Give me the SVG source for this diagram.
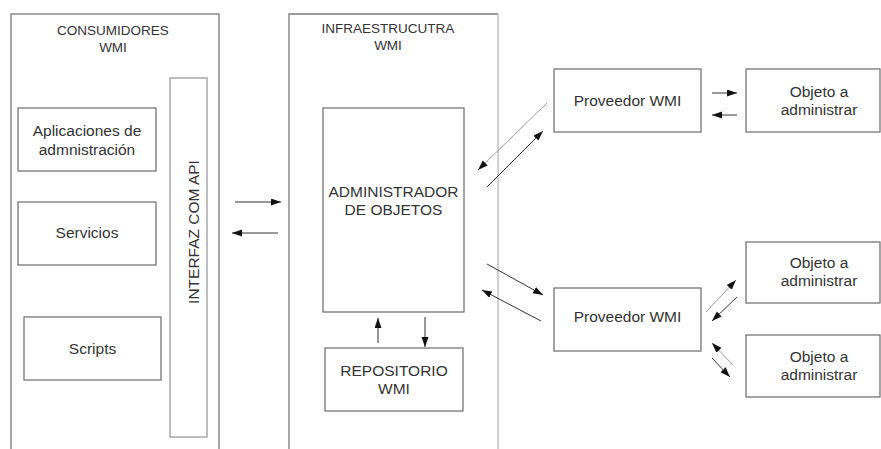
<svg xmlns="http://www.w3.org/2000/svg" width="881" height="449" viewBox="0 0 881 449">
<defs>
<marker id="ah" markerWidth="10" markerHeight="8" refX="10" refY="3.5" orient="auto" markerUnits="userSpaceOnUse">
<path d="M0,0 L10,3.5 L0,7 z" fill="#111"/>
</marker>
<style>
.cont{fill:none;stroke:#7a7a7a;stroke-width:1.3}
.box{fill:#fff;stroke:#6a6a6a;stroke-width:1.2}
.light{fill:#fff;stroke:#a8a8a8;stroke-width:1.5}
.t{font-family:"Liberation Sans",Arial,sans-serif;font-size:15.5px;fill:#333;text-anchor:middle}
.h{font-family:"Liberation Sans",Arial,sans-serif;font-size:13.5px;fill:#333;text-anchor:middle}
.a{stroke:#333;stroke-width:1;fill:none;marker-end:url(#ah)}
.ag{stroke:#999;stroke-width:1;fill:none;marker-end:url(#ah)}
</style>
</defs>
<rect width="881" height="449" fill="#fff"/>
<g id="consumidores">
<rect class="cont" x="11" y="14" width="208" height="450"/>
<text class="h" x="113" y="35">CONSUMIDORES</text>
<text class="h" x="113" y="52">WMI</text>
</g>
<g id="infraestructura">
<path d="M289,460 V14 H498" fill="none" stroke="#7a7a7a" stroke-width="1.3"/>
<path d="M498,14 V460" fill="none" stroke="#b5b5b5" stroke-width="1.3"/>
<text class="h" x="388" y="33">INFRAESTRUCUTRA</text>
<text class="h" x="388" y="50">WMI</text>
</g>
<g id="aplicaciones">
<rect class="box" x="18" y="108" width="138" height="63"/>
<text class="t" x="87" y="136">Aplicaciones de</text>
<text class="t" x="87" y="155">admnistración</text>
</g>
<g id="servicios">
<rect class="box" x="18" y="202" width="138" height="63"/>
<text class="t" x="87" y="238">Servicios</text>
</g>
<g id="scripts">
<rect class="box" x="24" y="317" width="137" height="63"/>
<text class="t" x="92.5" y="354">Scripts</text>
</g>
<g id="interfaz">
<rect class="light" x="170" y="78" width="37" height="359"/>
<text class="t" transform="translate(199,232) rotate(-90)" x="0" y="0">INTERFAZ COM API</text>
</g>
<g id="administrador">
<rect class="box" x="323" y="108" width="141" height="204"/>
<text class="t" x="393.5" y="197">ADMINISTRADOR</text>
<text class="t" x="393.5" y="215">DE OBJETOS</text>
</g>
<g id="repositorio">
<rect class="box" x="325" y="348" width="138" height="63"/>
<text class="t" x="394" y="376">REPOSITORIO</text>
<text class="t" x="394" y="394">WMI</text>
</g>
<g id="proveedor1">
<rect class="box" x="554" y="69" width="147" height="63"/>
<text class="t" x="627.5" y="106">Proveedor WMI</text>
</g>
<g id="objeto1">
<rect class="box" x="746" y="69" width="134" height="63"/>
<text class="t" x="819" y="97">Objeto a</text>
<text class="t" x="819" y="115">administrar</text>
</g>
<g id="proveedor2">
<rect class="box" x="554" y="288" width="147" height="63"/>
<text class="t" x="627.5" y="322">Proveedor WMI</text>
</g>
<g id="objeto2">
<rect class="box" x="746" y="242" width="134" height="61"/>
<text class="t" x="819" y="268">Objeto a</text>
<text class="t" x="819" y="286">administrar</text>
</g>
<g id="objeto3">
<rect class="box" x="746" y="335" width="134" height="62"/>
<text class="t" x="819" y="362">Objeto a</text>
<text class="t" x="819" y="380">administrar</text>
</g>
<g id="connectors">
<line class="a" x1="235" y1="202" x2="281" y2="202"/>
<line class="a" x1="278" y1="233" x2="232" y2="233"/>
<line class="a" x1="378" y1="343" x2="378" y2="318"/>
<line class="a" x1="425" y1="317" x2="425" y2="347"/>
<line class="ag" x1="547" y1="103" x2="478" y2="170"/>
<line class="a" x1="487" y1="187" x2="543" y2="131"/>
<line class="a" x1="487" y1="264" x2="543" y2="295"/>
<line class="a" x1="541" y1="321" x2="482" y2="290"/>
<line class="a" x1="712" y1="93" x2="737" y2="93"/>
<line class="a" x1="737" y1="115" x2="712" y2="115"/>
<line class="ag" x1="706" y1="312" x2="736" y2="280"/>
<line class="a" x1="737" y1="297" x2="712" y2="321"/>
<line class="ag" x1="733" y1="365" x2="712" y2="343"/>
<line class="a" x1="712" y1="358" x2="730" y2="377"/>
</g>
</svg>
